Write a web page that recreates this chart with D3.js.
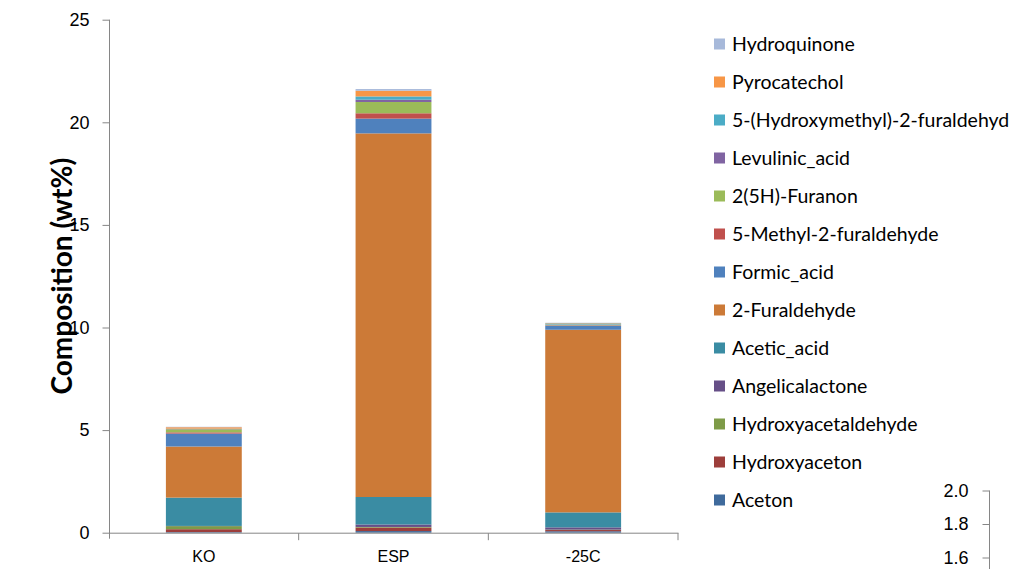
<!DOCTYPE html>
<html>
<head>
<meta charset="utf-8">
<script src="https://cdn.jsdelivr.net/npm/d3@7"></script>
<style>
  html, body { margin: 0; padding: 0; background: #fff; }
  svg { display: block; font-family: Lato, "Open Sans", sans-serif; }
</style>
</head>
<body>
<svg id="chart" width="1011" height="569"></svg>
<script>
// Samples on the category axis
const categories = ["KO", "ESP", "-25C"];

// Compounds, stacked from the bottom of each bar upwards
const compounds = [
  "Aceton", "Hydroxyaceton", "Hydroxyacetaldehyde", "Angelicalactone",
  "Acetic_acid", "2-Furaldehyde", "Formic_acid", "5-Methyl-2-furaldehyde",
  "2(5H)-Furanon", "Levulinic_acid", "5-(Hydroxymethyl)-2-furaldehyd",
  "Pyrocatechol", "Hydroquinone"
];

const compoundColors = [
  "#3F6A9C", "#9D3E3B", "#7E9B48", "#664F87",
  "#3A8CA3", "#CC7A37", "#4F81BD", "#C0504D",
  "#9BBB59", "#8064A2", "#4BACC6", "#F79646", "#A7B9DA"
];

// Composition in wt%, one value per compound (same order as above)
const koValues   = [0.03, 0.14, 0.15, 0.01, 1.38, 2.49, 0.63, 0.06, 0.15, 0.02, 0.01, 0.07, 0.02];
const espValues  = [0.08, 0.17, 0.03, 0.12, 1.34, 17.72, 0.72, 0.26, 0.55, 0.11, 0.16, 0.28, 0.08];
const c25Values  = [0.07, 0.06, 0.02, 0.11, 0.73, 8.90, 0.20, 0.02, 0.03, 0.01, 0.05, 0.02, 0.01];

const yTicks = [0, 5, 10, 15, 20, 25];
const sideTicks = [2.0, 1.8, 1.6, 1.4, 1.2, 1.0];

const seriesValues = [koValues, espValues, c25Values];

const rows = categories.map((c, i) => {
  const r = { category: c };
  compounds.forEach((k, j) => { r[k] = seriesValues[i][j]; });
  return r;
});

const svg = d3.select("#chart");
const axisColor = "#868686";
const textColor = "#000";

const x = d3.scaleBand()
  .domain(categories)
  .range([109, 678])
  .paddingInner(0.6)
  .paddingOuter(0.3);

const y = d3.scaleLinear()
  .domain([0, 25])
  .range([532.7, 19.7]);

const stacked = d3.stack().keys(compounds)(rows);

// Bars
const layers = svg.append("g").selectAll("g")
  .data(stacked)
  .join("g")
  .attr("fill", (d, i) => compoundColors[i]);

layers.selectAll("rect")
  .data(d => d)
  .join("rect")
  .attr("x", d => x(d.data.category))
  .attr("width", x.bandwidth())
  .attr("y", d => y(d[1]))
  .attr("height", d => Math.max(0, y(d[0]) - y(d[1])));

// Y axis
const yAxis = svg.append("g")
  .attr("transform", "translate(109.5,0)")
  .call(d3.axisLeft(y).tickValues(yTicks).tickSize(7).tickSizeOuter(0).tickPadding(13));
yAxis.select(".domain").attr("stroke", axisColor).attr("d", `M0,${y(25)}V${y(0) + 6}`);
yAxis.selectAll(".tick line").attr("stroke", axisColor);
yAxis.selectAll(".tick text").attr("fill", textColor).style("font-size", "18px");

// X axis with tick marks at the category boundaries
const xAxis = svg.append("g")
  .attr("transform", `translate(0,${y(0) + 0.5})`)
  .call(d3.axisBottom(x).tickSize(0).tickPadding(17));
xAxis.select(".domain").attr("stroke", axisColor).attr("d", "M109,0H678.5");
xAxis.selectAll(".tick text").attr("fill", textColor).style("font-size", "16px");
const boundaries = [109.5, ...categories.slice(1).map(c => x(c) - x.step() * x.paddingInner() / 2), 678];
xAxis.selectAll("line.bound")
  .data(boundaries.slice(1))
  .join("line")
  .attr("class", "bound")
  .attr("x1", d => d).attr("x2", d => d)
  .attr("y1", 0).attr("y2", 7)
  .attr("stroke", axisColor);

// Y axis title
svg.append("text")
  .attr("transform", `translate(72,${(y(0) + y(25)) / 2}) rotate(-90)`)
  .attr("text-anchor", "middle")
  .style("font-size", "28px")
  .style("font-weight", "bold")
  .attr("fill", textColor)
  .text("Composition (wt%)");

// Legend, listed top-down in reverse stacking order
const legendItems = compounds.map((k, i) => ({ name: k, color: compoundColors[i] })).reverse();
const legendY = d3.scalePoint()
  .domain(legendItems.map(d => d.name))
  .range([44, 500]);

const legend = svg.append("g").selectAll("g")
  .data(legendItems)
  .join("g")
  .attr("transform", d => `translate(714,${legendY(d.name)})`);
legend.append("rect")
  .attr("x", 0).attr("y", -5.5)
  .attr("width", 11).attr("height", 11)
  .attr("fill", d => d.color);
legend.append("text")
  .attr("x", 18)
  .attr("dy", "0.35em")
  .style("font-size", "19.5px")
  .attr("fill", textColor)
  .text(d => d.name);

// Secondary value axis at the lower right
const ySide = d3.scaleLinear()
  .domain([0, 2.0])
  .range([490.5 + 33.5 * 10, 490.5]);
const sideAxis = svg.append("g")
  .attr("transform", "translate(989.5,0)")
  .call(d3.axisLeft(ySide).tickValues(sideTicks).tickFormat(d3.format(".1f")).tickSize(7).tickSizeOuter(0).tickPadding(14));
sideAxis.select(".domain").attr("stroke", axisColor).attr("d", `M0,${ySide(2.0)}V${ySide(1.0)}`);
sideAxis.selectAll(".tick line").attr("stroke", axisColor);
sideAxis.selectAll(".tick text").attr("fill", textColor).style("font-size", "18px");
</script>
</body>
</html>
